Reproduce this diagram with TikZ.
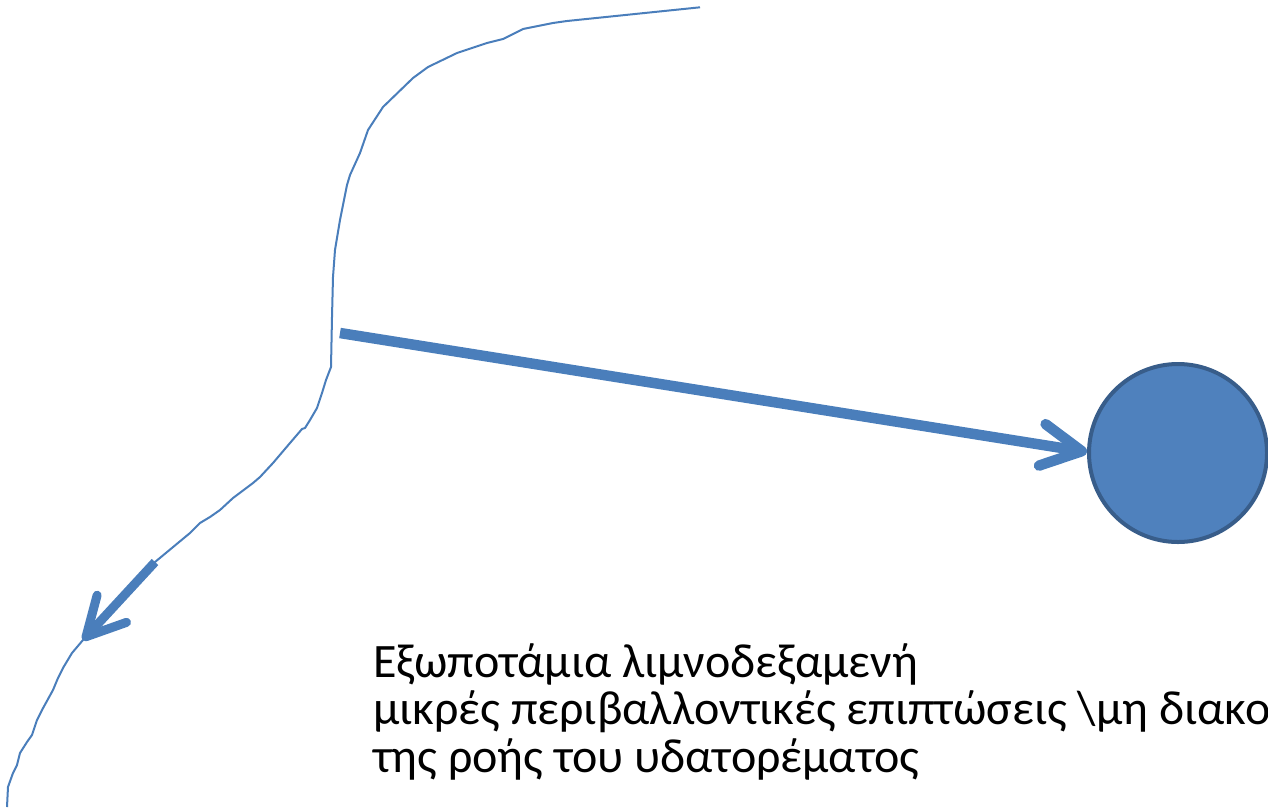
\documentclass[tikz,border=0pt]{standalone}
\usepackage{fontspec}
\setmainfont{Carlito}
\usetikzlibrary{arrows.meta}
\definecolor{riverblue}{HTML}{4A7EBB}
\definecolor{lakefill}{HTML}{4F81BD}
\definecolor{lakeedge}{HTML}{385D8A}
\tikzset{
  river/.style={draw=riverblue, line width=2pt, line join=round},
  bigarrow/.style={draw=riverblue, line width=10.5pt, -{Straight Barb[length=40pt,width=42pt,line cap=round,line join=round]}},
  smallarrow/.style={draw=riverblue, line width=9pt, -{Straight Barb[length=38pt,width=40pt,line cap=round,line join=round]}},
  lake/.style={circle, fill=lakefill, draw=lakeedge, line width=4pt, minimum size=178pt, inner sep=0pt},
  label/.style={anchor=base west, inner sep=0pt, font=\fontsize{48pt}{47.5pt}\selectfont}
}
\begin{document}
\begin{tikzpicture}[x=1pt,y=-1pt]
\useasboundingbox (0,0) rectangle (1268,807);
\clip (0,0) rectangle (1268,807);
% river
\draw[river] (700,7.3) -- (567,21) -- (553,23) -- (523,29) -- (503,39) -- (487,43) -- (457,53) -- (428,67) -- (413,78) -- (383,107) -- (368,130) -- (360,153) -- (350,175) -- (347,185) -- (340,220) -- (335,250) -- (333,277) -- (332,317) -- (331,367) -- (326,380) -- (322,393) -- (317,408) -- (310,420) -- (305,428) -- (302,429) -- (290,443) -- (273,463) -- (260,477) -- (253,483) -- (233,498) -- (220,510) -- (210,517) -- (200,523) -- (190,533) -- (155,562) -- (83,640) -- (72,653) -- (63,668) -- (58,678) -- (53,690) -- (42,710) -- (37,720) -- (32,735) -- (27,742) -- (20,753) -- (17,765) -- (13,773) -- (8,787) -- (7,807);
% lake
\node[lake] (lake) at (1178,453) {};
\coordinate (src) at (340,333);
\draw[bigarrow] (src) -- (lake.west |- 0,452) ;
% flow arrow
\coordinate (flowA) at (155,562);
\coordinate (flowB) at (83,640);
\draw[smallarrow] (flowA) -- (flowB);
% text
\node[label] (t1) at (373,677) {Εξωποτάμια λιμνοδεξαμενή};
\node[label] (t2) at (373,724.5) {μικρές περιβαλλοντικές επιπτώσεις \textbackslash μη διακο};
\node[label] (t3) at (373,772) {της ροής του υδατορέματος};
\end{tikzpicture}
\end{document}
